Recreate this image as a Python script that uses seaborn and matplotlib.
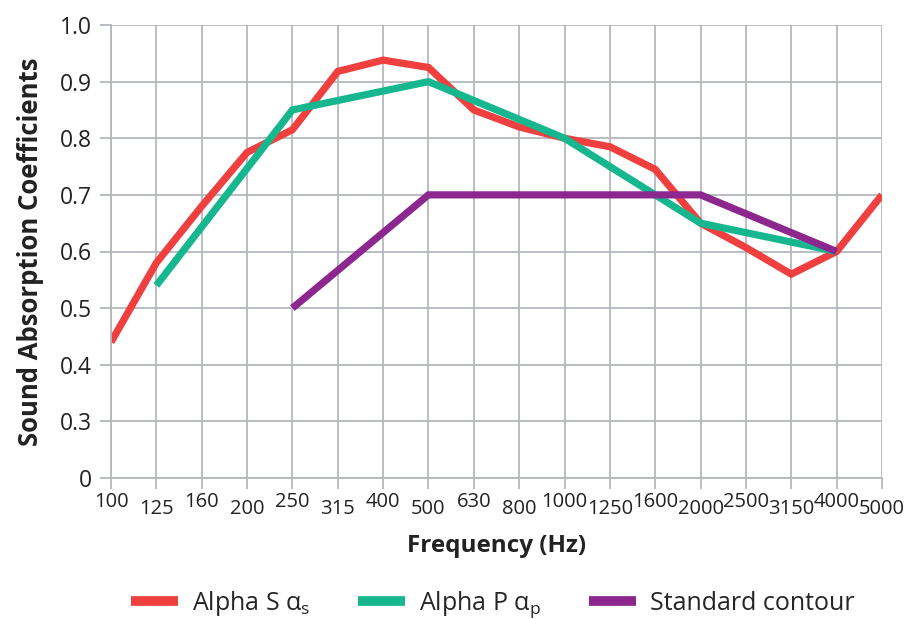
import matplotlib
matplotlib.use("Agg")
import matplotlib.pyplot as plt
import numpy as np
import pandas as pd
import seaborn as sns

# Third-octave band centre frequencies (Hz)
frequencies = ["100", "125", "160", "200", "250", "315", "400", "500", "630", "800",
               "1000", "1250", "1600", "2000", "2500", "3150", "4000", "5000"]

# Alpha S: measured at every band
alpha_s_freqs = frequencies
alpha_s_values = [0.44, 0.58, 0.68, 0.775, 0.815, 0.918, 0.938, 0.925, 0.85, 0.82,
                  0.80, 0.785, 0.745, 0.65, 0.607, 0.56, 0.60, 0.70]

# Alpha P: octave bands only
alpha_p_freqs = ["125", "250", "500", "1000", "2000", "4000"]
alpha_p_values = [0.54, 0.85, 0.90, 0.80, 0.65, 0.60]

# Reference contour
contour_freqs = ["250", "500", "2000", "4000"]
contour_values = [0.50, 0.70, 0.70, 0.60]

series_names = ["Alpha S α$_\\mathregular{s}$", "Alpha P α$_\\mathregular{p}$", "Standard contour"]
series_colors = ["#EF3F3F", "#16B78E", "#8C2790"]

y_ticks = [0.2, 0.3, 0.4, 0.5, 0.6, 0.7, 0.8, 0.9, 1.0]
y_tick_labels = ["0", "0.3", "0.4", "0.5", "0.6", "0.7", "0.8", "0.9", "1.0"]

pos = {f: i for i, f in enumerate(frequencies)}
rows = []
for name, fs, vs in zip(series_names,
                        [alpha_s_freqs, alpha_p_freqs, contour_freqs],
                        [alpha_s_values, alpha_p_values, contour_values]):
    for f, v in zip(fs, vs):
        rows.append({"band": pos[f], "value": v, "series": name})
df = pd.DataFrame(rows)

sns.set_theme(style="white")
plt.rcParams["font.family"] = ["Open Sans", "DejaVu Sans"]
plt.rcParams["mathtext.fontset"] = "custom"
plt.rcParams["mathtext.rm"] = "Open Sans"

fig = plt.figure(figsize=(9.2, 6.19), dpi=100)
ax = fig.add_axes([111 / 920, 1 - 478 / 619, (882 - 111) / 920, (478 - 25) / 619])

sns.lineplot(data=df, x="band", y="value", hue="series", hue_order=series_names,
             palette=series_colors, linewidth=5.2, ax=ax, sort=False,
             solid_capstyle="butt", solid_joinstyle="miter", legend=True)

grid_color = "#B4B8BC"
text_color = "#222222"
ax.set_xlim(0, len(frequencies) - 1)
ax.set_ylim(0.2, 1.0)
ax.set_xticks(range(len(frequencies)))
ax.set_xticklabels(frequencies, fontsize=14.5, color=text_color)
ax.set_yticks(y_ticks)
ax.set_yticklabels(y_tick_labels, fontsize=16.5, color=text_color)
ax.grid(True, color=grid_color, linewidth=1.3)
ax.set_axisbelow(True)
for s in ["top", "right"]:
    ax.spines[s].set_visible(False)
for s in ["left", "bottom"]:
    ax.spines[s].set_color(grid_color)
    ax.spines[s].set_linewidth(1.3)
ax.tick_params(axis="both", which="major", direction="out", length=8,
               width=1.3, color=grid_color, bottom=True, left=True)
ax.tick_params(axis="x", pad=2)
ax.tick_params(axis="y", pad=6)

# Stagger alternate frequency labels
for i, tick in enumerate(ax.xaxis.get_major_ticks()):
    if i % 2 == 1:
        tick.set_pad(7)

ax.set_xlabel("Frequency (Hz)", fontsize=17.5, fontweight="bold", color=text_color, labelpad=11)
ax.set_ylabel("Sound Absorption Coefficients", fontsize=18.5, fontweight="bold",
              color=text_color, labelpad=11)

handles, labels = ax.get_legend_handles_labels()
ax.legend(handles, labels, loc="upper center", bbox_to_anchor=(0.495, -0.222),
          ncol=3, frameon=False, fontsize=18, handlelength=1.9, handletextpad=0.55,
          columnspacing=1.9, borderaxespad=0)
for line in ax.get_legend().get_lines():
    line.set_linewidth(7)

fig.savefig("out.png", dpi=100)
